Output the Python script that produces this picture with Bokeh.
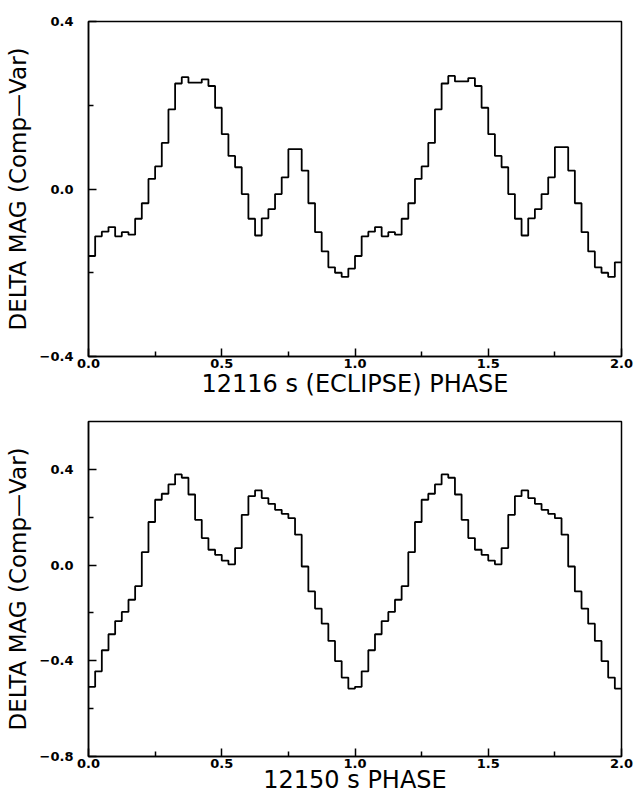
import numpy as np
from bokeh.plotting import figure
from bokeh.layouts import column
from bokeh.models import FixedTicker, Range1d
from bokeh.embed import file_html
from bokeh.resources import INLINE

# ---------------- data ----------------
bin_width = 0.025  # phase width of each bin

# Top panel: 12116 s (eclipse) period, phase 0-1 and 1-2
top_cycle1 = [-0.160, -0.113, -0.102, -0.091, -0.113, -0.103, -0.109, -0.071, -0.034, 0.024,
              0.054, 0.110, 0.190, 0.252, 0.267, 0.254, 0.254, 0.262, 0.246, 0.194,
              0.131, 0.079, 0.052, -0.012, -0.071, -0.111, -0.070, -0.048, -0.012, 0.028,
              0.095, 0.095, 0.044, -0.034, -0.103, -0.149, -0.187, -0.200, -0.210, -0.190]
top_cycle2 = [-0.160, -0.113, -0.102, -0.091, -0.113, -0.103, -0.109, -0.071, -0.034, 0.024,
              0.054, 0.110, 0.190, 0.252, 0.270, 0.257, 0.257, 0.265, 0.246, 0.194,
              0.131, 0.079, 0.052, -0.012, -0.071, -0.111, -0.070, -0.048, -0.012, 0.028,
              0.100, 0.100, 0.044, -0.034, -0.103, -0.149, -0.187, -0.200, -0.210, -0.175]

# Bottom panel: 12150 s period
bot_cycle1 = [-0.509, -0.444, -0.356, -0.289, -0.234, -0.196, -0.145, -0.088, 0.054, 0.180,
              0.273, 0.298, 0.337, 0.379, 0.365, 0.295, 0.189, 0.113, 0.064, 0.043,
              0.019, 0.003, 0.071, 0.210, 0.288, 0.312, 0.280, 0.256, 0.231, 0.214,
              0.196, 0.127, -0.006, -0.110, -0.182, -0.245, -0.317, -0.401, -0.470, -0.516]
bot_cycle2 = [-0.509, -0.444, -0.356, -0.289, -0.234, -0.196, -0.145, -0.088, 0.054, 0.180,
              0.273, 0.298, 0.337, 0.379, 0.365, 0.295, 0.189, 0.113, 0.064, 0.043,
              0.019, 0.003, 0.071, 0.210, 0.288, 0.312, 0.280, 0.256, 0.231, 0.214,
              0.196, 0.127, -0.006, -0.110, -0.182, -0.245, -0.317, -0.401, -0.470, -0.516]

top_xlabel = "12116 s (ECLIPSE) PHASE"
bot_xlabel = "12150 s PHASE"
y_label = "DELTA MAG (Comp\u2014Var)"

x_ticks = [0.0, 0.5, 1.0, 1.5, 2.0]
x_tick_labels = ["0.0", "0.5", "1.0", "1.5", "2.0"]
x_minor = [0.25, 0.75, 1.25, 1.75]

top_y_range = (-0.4, 0.4)
top_y_ticks = [-0.4, 0.0, 0.4]
top_y_labels = ["\u22120.4", "0.0", "0.4"]
top_y_minor = [-0.2, 0.2]

bot_y_range = (-0.8, 0.6)
bot_y_ticks = [-0.8, -0.4, 0.0, 0.4]
bot_y_labels = ["\u22120.8", "\u22120.4", "0.0", "0.4"]
bot_y_minor = [-0.6, -0.2, 0.2]

TITLE_FONT = "DejaVu Sans"
TICK_FONT = "DejaVu Sans"


def make_panel(c1, c2, yr, yt, yl, ym, xlabel, border_top, border_bottom, xlabel_standoff):
    vals = np.array(c1 + c2, dtype=float)
    edges = np.arange(len(vals) + 1) * bin_width
    ys = np.append(vals, vals[-1])
    p = figure(frame_width=533, frame_height=335,
               x_range=Range1d(0, 2), y_range=Range1d(*yr),
               output_backend="svg", toolbar_location=None,
               min_border_left=88, min_border_right=13,
               min_border_top=border_top, min_border_bottom=border_bottom,
               background_fill_color="white", border_fill_color="white")
    p.step(edges, ys, mode="after", line_color="black", line_width=1.8)
    p.grid.visible = False
    p.outline_line_color = "black"
    p.outline_line_width = 1.5
    p.outline_line_alpha = 1.0

    xa = p.xaxis[0]
    xa.ticker = FixedTicker(ticks=x_ticks, minor_ticks=x_minor)
    xa.major_label_overrides = {t: s for t, s in zip(x_ticks, x_tick_labels)}
    xa.axis_label = xlabel

    ya = p.yaxis[0]
    ya.ticker = FixedTicker(ticks=yt, minor_ticks=ym)
    ya.major_label_overrides = {t: s for t, s in zip(yt, yl)}
    ya.axis_label = y_label

    for ax in (xa, ya):
        ax.axis_line_color = "black"
        ax.axis_line_width = 1.5
        ax.major_tick_in = 8
        ax.major_tick_out = 0
        ax.minor_tick_in = 5
        ax.minor_tick_out = 0
        ax.major_tick_line_color = "black"
        ax.major_tick_line_width = 1.5
        ax.minor_tick_line_color = "black"
        ax.minor_tick_line_width = 1.5
        ax.major_label_text_font = TICK_FONT
        ax.major_label_text_font_style = "bold"
        ax.major_label_text_font_size = "13px"
        ax.major_label_text_color = "black"
        ax.axis_label_text_font = TITLE_FONT
        ax.axis_label_text_font_style = "normal"
        ax.axis_label_text_color = "black"
    xa.axis_label_text_font_size = "24px"
    ya.axis_label_text_font_size = "23px"
    xa.major_label_standoff = 2
    xa.axis_label_standoff = xlabel_standoff
    ya.major_label_standoff = 15
    ya.axis_label_standoff = 6
    return p


p_top = make_panel(top_cycle1, top_cycle2, top_y_range, top_y_ticks, top_y_labels,
                   top_y_minor, top_xlabel, 21, 50, -1)
p_bot = make_panel(bot_cycle1, bot_cycle2, bot_y_range, bot_y_ticks, bot_y_labels,
                   bot_y_minor, bot_xlabel, 15, 41, -5)

layout = column(p_top, p_bot, spacing=0)
with open("out.html", "w") as f:
    f.write(file_html(layout, INLINE))
